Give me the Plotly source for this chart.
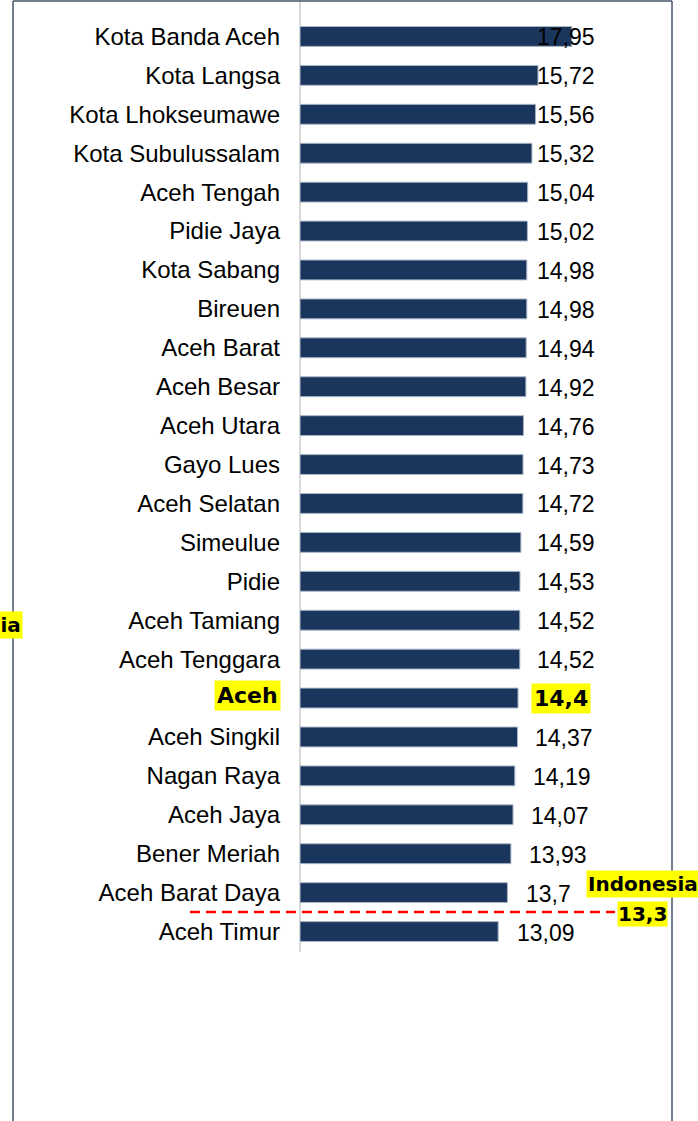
import plotly.graph_objects as go

# ---------------- data ----------------
categories = [
    "Kota Banda Aceh", "Kota Langsa", "Kota Lhokseumawe", "Kota Subulussalam",
    "Aceh Tengah", "Pidie Jaya", "Kota Sabang", "Bireuen", "Aceh Barat",
    "Aceh Besar", "Aceh Utara", "Gayo Lues", "Aceh Selatan", "Simeulue",
    "Pidie", "Aceh Tamiang", "Aceh Tenggara", "Aceh", "Aceh Singkil",
    "Nagan Raya", "Aceh Jaya", "Bener Meriah", "Aceh Barat Daya", "Aceh Timur",
]
values = [
    17.95, 15.72, 15.56, 15.32, 15.04, 15.02, 14.98, 14.98, 14.94, 14.92,
    14.76, 14.73, 14.72, 14.59, 14.53, 14.52, 14.52, 14.4, 14.37, 14.19,
    14.07, 13.93, 13.7, 13.09,
]
highlight = "Aceh"
national_label = "Indonesia"
national_value = 13.3

# ---------------- layout / style ----------------
W, H = 698, 1121
PLOT_L, PLOT_R, PLOT_T, PLOT_B = 300, 672, 17, 951
PX_PER_UNIT = 15.14
X_MAX = (PLOT_R - PLOT_L) / PX_PER_UNIT

BAR_COLOR = "#1b365d"
BAR_EDGE = "#a9b6c8"
FRAME = "#44546a"
FONT = "Liberation Sans, Arial, sans-serif"
BOLD_FONT = "DejaVu Sans, Liberation Sans, sans-serif"

LABEL_RIGHT_DEFAULT = 597
LABEL_RIGHT = {"Aceh Singkil": 595, "Nagan Raya": 593, "Aceh Jaya": 591,
               "Bener Meriah": 589, "Aceh Barat Daya": 573, "Aceh Timur": 577,
               "Aceh": 591}


def fx(p):
    return p / W


def fy(p):
    return 1 - p / H


def fmt(v):
    return str(v).replace(".", ",")


n = len(categories)
fig = go.Figure(
    go.Bar(
        x=values,
        y=categories,
        orientation="h",
        marker=dict(color=BAR_COLOR, line=dict(color=BAR_EDGE, width=1)),
        hoverinfo="skip",
    )
)

annotations = []
for c, v in zip(categories, values):
    right_px = LABEL_RIGHT.get(c, LABEL_RIGHT_DEFAULT)
    xd = (right_px - PLOT_L) / PX_PER_UNIT
    if c == highlight:
        annotations.append(dict(
            x=xd, y=c, xref="x", yref="y", xanchor="right", yanchor="middle",
            text="<b>" + fmt(v) + "</b>", showarrow=False, bgcolor="#ffff00",
            borderpad=2, font=dict(family=BOLD_FONT, size=22, color="black"),
        ))
        annotations.append(dict(
            x=fx(281), y=c, xref="paper", yref="y",
            xanchor="right", yanchor="middle", yshift=3,
            text="<b>" + c + "</b>", showarrow=False, bgcolor="#ffff00",
            borderpad=2, font=dict(family=BOLD_FONT, size=22, color="black"),
        ))
    else:
        annotations.append(dict(
            x=xd, y=c, xref="x", yref="y", xanchor="right", yanchor="middle",
            yshift=-1, text=fmt(v), showarrow=False,
            font=dict(family=FONT, size=23, color="black"),
        ))

# national reference position (between sorted categories)
pos = sum(1 for v in values if v > national_value) - 0.5
line_py = PLOT_T + (pos + 0.5) * (PLOT_B - PLOT_T) / n

annotations += [
    dict(x=fx(586), y=fy(870), xref="paper", yref="paper", xanchor="left",
         yanchor="top", text="<b>" + national_label + "</b>", showarrow=False,
         bgcolor="#ffff00", borderpad=1,
         font=dict(family=BOLD_FONT, size=20, color="black")),
    dict(x=fx(642), y=fy(901), xref="paper", yref="paper", xanchor="center",
         yanchor="top", text="<b>" + fmt(national_value) + "</b>", showarrow=False,
         bgcolor="#ffff00", borderpad=0,
         font=dict(family=BOLD_FONT, size=20, color="black")),
    dict(x=fx(23), y=fy(611), xref="paper", yref="paper", xanchor="right",
         yanchor="top", text="<b>" + national_label + "</b>", showarrow=False,
         bgcolor="#ffff00", borderpad=1,
         font=dict(family=BOLD_FONT, size=20, color="black")),
]

shapes = [
    # value axis line
    dict(type="line", xref="paper", yref="paper", x0=fx(300), x1=fx(300),
         y0=fy(0), y1=fy(952), line=dict(color="#d9d9d9", width=2), layer="below"),
    # national dashed line
    dict(type="line", xref="paper", yref="paper", x0=fx(190), x1=fx(615),
         y0=fy(line_py), y1=fy(line_py),
         line=dict(color="#ff0000", width=2.5, dash="10px,6px")),
    # frame
    dict(type="line", xref="paper", yref="paper", x0=fx(13), x1=fx(13),
         y0=fy(1), y1=fy(H), line=dict(color=FRAME, width=1.5)),
    dict(type="line", xref="paper", yref="paper", x0=fx(13), x1=fx(672),
         y0=fy(1), y1=fy(1), line=dict(color=FRAME, width=1.5)),
    dict(type="line", xref="paper", yref="paper", x0=fx(672), x1=fx(672),
         y0=fy(1), y1=fy(H), line=dict(color=FRAME, width=1.5)),
]

fig.update_layout(
    width=W, height=H,
    margin=dict(l=0, r=0, t=0, b=0),
    paper_bgcolor="white", plot_bgcolor="white",
    showlegend=False,
    bargap=0.49,
    xaxis=dict(domain=[fx(PLOT_L), fx(PLOT_R)], range=[0, X_MAX],
               visible=False, showgrid=False, zeroline=False, fixedrange=True),
    yaxis=dict(domain=[fy(PLOT_B), fy(PLOT_T)], type="category",
               range=[n - 0.5, -0.5], tickmode="array", tickvals=categories,
               ticktext=["" if c == highlight else c for c in categories],
               showgrid=False, zeroline=False, showline=False, ticks="",
               ticklabelstandoff=19, automargin=False, fixedrange=True,
               tickfont=dict(family=FONT, size=24, color="black")),
    annotations=annotations,
    shapes=shapes,
)

fig.write_html(
    "out.html",
    config={"displayModeBar": False},
    post_script="document.body.style.margin='0';document.body.style.overflow='hidden';",
)
